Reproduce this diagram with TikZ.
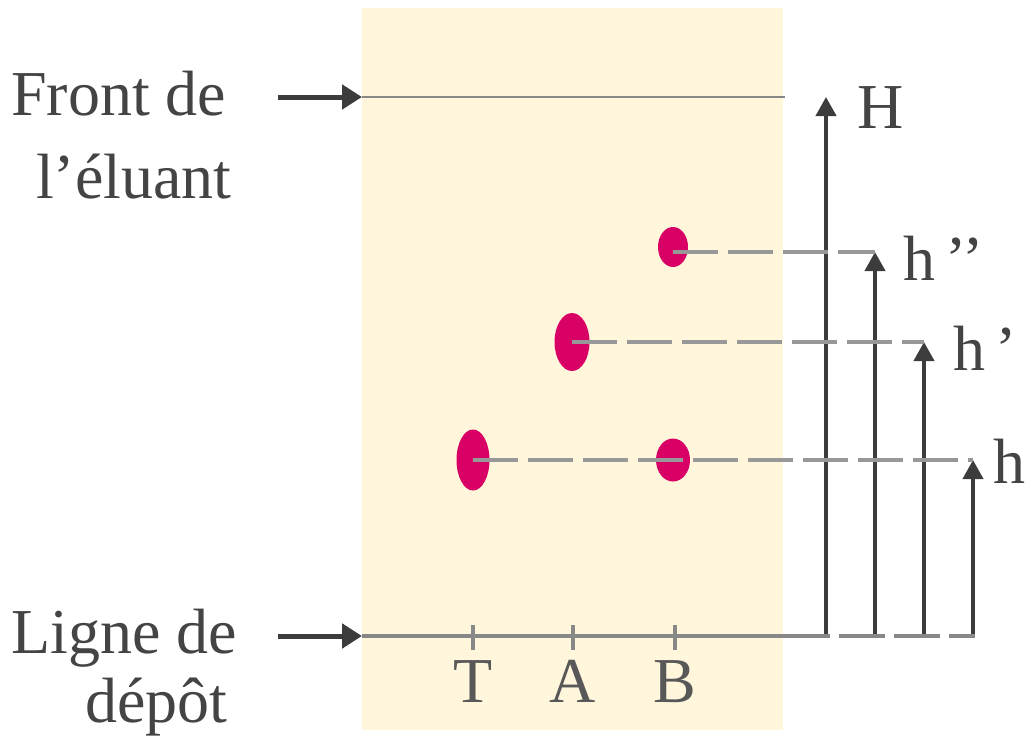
\documentclass[tikz,border=0pt]{standalone}
\usepackage{fontspec}
\setmainfont{Liberation Serif}
\usetikzlibrary{arrows.meta,shapes.geometric}
\definecolor{plaque}{RGB}{255,246,220}
\definecolor{tache}{RGB}{216,0,100}
\definecolor{texte}{RGB}{68,68,68}
\definecolor{lettre}{RGB}{88,88,88}
\definecolor{trait}{RGB}{60,60,60}
\definecolor{gris}{RGB}{152,152,152}
\definecolor{ligne}{RGB}{136,136,136}

\begin{document}
\begin{tikzpicture}[x=1pt,y=-1pt]
\tikzset{
  txt/.style={font=\fontsize{64}{80}\selectfont,text=texte,inner sep=0pt},
  tache/.style={draw=none,ellipse,fill=tache,inner sep=0pt},
  fleche/.style={trait,line width=4pt,-{Triangle[length=19pt,width=20pt]}},
  tirets/.style={gris,line width=4pt,dash pattern=on 45pt off 10pt}
}
\useasboundingbox (0,0) rectangle (1025,744);

% Plaque
\fill[plaque] (362,8) rectangle (783,730);

% Lignes
\coordinate (f1) at (362,97);
\coordinate (f2) at (785,97);
\coordinate (d1) at (362,636);
\coordinate (d2) at (826,636);
\coordinate (d3) at (975,636);
\draw[ligne,line width=2pt] (f1) -- (f2);

% Fleches a gauche
\coordinate (a1) at (278,97);
\coordinate (a2) at (278,636);
\draw[trait,line width=5pt,-{Triangle[length=20pt,width=24pt]}] (a1) -- (f1);
\draw[trait,line width=5pt,-{Triangle[length=20pt,width=24pt]}] (a2) -- (d1);

% Hauteurs
\coordinate (pH) at (826,636);
\coordinate (tH) at (826,97);
\coordinate (p2) at (875,636);
\coordinate (t2) at (875,252);
\coordinate (p1) at (924,636);
\coordinate (t1) at (924,342);
\coordinate (p0) at (973,636);
\coordinate (t0) at (973,460);
\draw[fleche] (pH) -- (tH);
\draw[fleche] (p2) -- (t2);
\draw[fleche] (p1) -- (t1);
\draw[fleche] (p0) -- (t0);

% Taches
\node (sT) at (473,460) [tache,minimum width=33pt,minimum height=61pt] {};
\node (sA) at (572,342) [tache,minimum width=35pt,minimum height=58pt] {};
\node (sB) at (673,460) [tache,minimum width=34pt,minimum height=43pt] {};
\node (sB2) at (673,247) [tache,minimum width=30pt,minimum height=40pt] {};

% Pointilles
\draw[tirets] (sB2.center |- t2) -- (t2);
\draw[tirets] (sA.center) -- (t1);
\draw[tirets] (sT.center) -- (t0);

% Ligne de depot
\draw[ligne,line width=4pt] (d1) -- (d2);
\draw[ligne,line width=4pt,dash pattern=on 46pt off 9pt,dash phase=42pt] (d2) -- (d3);
\foreach \n/\x in {T/473,A/573,B/675} {
  \draw[ligne,line width=4pt] (\x,625) -- (\x,650);
  \node (l\n) at (\x,702) [txt,anchor=base,text=lettre] {\n};
}

% Textes
\node (front1) at (11,115) [txt,anchor=base west] {Front de};
\node (front2) at (36,198) [txt,anchor=base west] {l’éluant};
\node (ligne1) at (11,653) [txt,anchor=base west] {Ligne de};
\node (ligne2) at (85,722) [txt,anchor=base west] {dépôt};
\node (H) at (857,128) [txt,anchor=base west] {H};
\node (h2) at (903,280) [txt,anchor=base west] {h\,’’};
\node (h1) at (953,370) [txt,anchor=base west] {h\,’};
\node (h0) at (993,483) [txt,anchor=base west] {h};

\end{tikzpicture}
\end{document}
